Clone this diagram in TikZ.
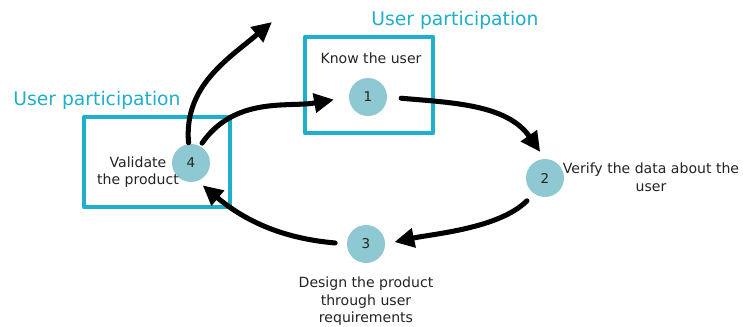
\documentclass[tikz,border=0pt]{standalone}
\usepackage{fontspec}
\setmainfont{DejaVu Sans}
\usetikzlibrary{arrows.meta}
\definecolor{partblue}{RGB}{30,175,202}
\definecolor{stepfill}{RGB}{142,200,211}
\definecolor{txtgray}{RGB}{35,35,35}

\begin{document}
\begin{tikzpicture}[x=0.03cm, y=-0.03cm, line cap=round, line join=round,
  stepdot/.style={circle, fill=stepfill, minimum size=1.14cm, inner sep=0pt,
    font=\fontsize{11.5}{13}\selectfont, text=txtgray},
  partbox/.style={draw=partblue, line width=3.8pt, inner sep=0pt},
  steptext/.style={align=center, text=txtgray, font=\fontsize{12}{15}\selectfont},
  parttext/.style={text=partblue, font=\fontsize{16}{18}\selectfont},
  flow/.style={line width=4.3pt, -{Triangle[length=17pt,width=16pt]}}]
\useasboundingbox (0,0) rectangle (743,326);

% the boxes for user participation
\node[partbox, minimum width=3.84cm, minimum height=2.88cm] (box1) at (369,85) {};
\node[partbox, minimum width=4.38cm, minimum height=2.7cm] (box4) at (157,162) {};
\node[parttext] (part1) at (455,20) {User participation};
\node[parttext] (part4) at (97,100) {User participation};

% the four steps
\node[stepdot] (c1) at (368,97) {1};
\node[stepdot] (c2) at (545,178) {2};
\node[stepdot] (c3) at (366,244) {3};
\node[stepdot] (c4) at (191,163) {4};

\node[steptext] (t1) at (371,58) {Know the user};
\node[steptext, anchor=north] (t2) at (651,159) {Verify the data about the\\user};
\node[steptext, anchor=north] (t3) at (366,273) {Design the product\\through user\\requirements};
\node[steptext] (t4) at (138,172) {Validate\\the product};

% the cycle
\coordinate (exit) at (272,22);
\draw[flow, shorten <=3pt, shorten >=0.45cm] (c4.62) to[out=55, in=190] (c1.west);
\draw[flow, shorten <=0.42cm, shorten >=0.25cm] (c1.east) to[out=-5, in=125] (c2.north);
\draw[flow, shorten <=0.3cm, shorten >=0.28cm] (c2.235) to[out=225, in=12, looseness=0.8] (c3.east);
\draw[flow, shorten <=0.35cm, shorten >=0.2cm] (c3.west) to[out=175, in=-40] (c4.-70);
\draw[flow, shorten <=1pt] (c4.97) to[out=95, in=220] (exit);
\end{tikzpicture}
\end{document}
